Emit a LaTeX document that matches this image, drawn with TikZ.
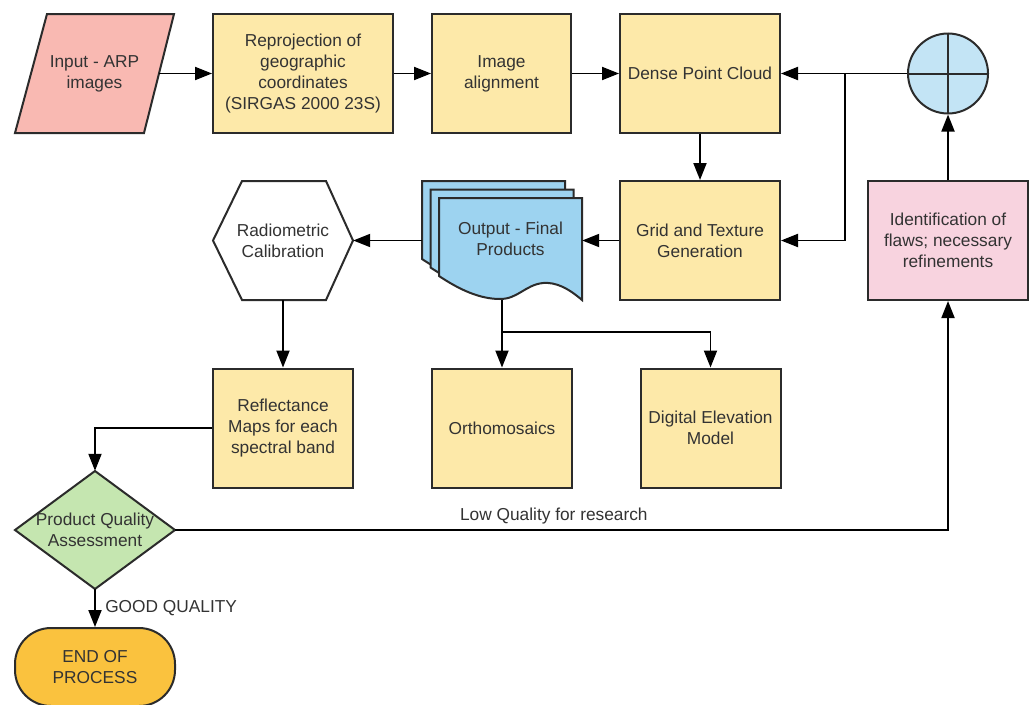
\documentclass[tikz,border=0pt]{standalone}
\usepackage{fontspec}
\setmainfont{Liberation Sans}
\usetikzlibrary{arrows.meta}

\definecolor{boxyellow}{HTML}{FDE9A9}
\definecolor{inputpink}{HTML}{F9B9B2}
\definecolor{identpink}{HTML}{F8D3DF}
\definecolor{circblue}{HTML}{C3E4F5}
\definecolor{docblue}{HTML}{9DD3F0}
\definecolor{testgreen}{HTML}{C5E6B0}
\definecolor{endorange}{HTML}{FAC23E}
\definecolor{textgray}{HTML}{333333}
\definecolor{linegray}{HTML}{2B2B2B}

\begin{document}
\begin{tikzpicture}[x=1pt,y=-1pt,
    every node/.style={font=\fontsize{17.3}{20.7}\selectfont,text=textgray,align=center},
    procbox/.style={rectangle,draw=linegray,line width=2pt,fill=boxyellow,minimum width=140,minimum height=119,inner sep=0},
    anchorbox/.style={rectangle,minimum height=119,inner sep=0},
    outline/.style={draw=linegray,line width=2pt},
    arr/.style={-{Triangle[length=17pt,width=13pt]},draw=black,line width=1.9pt}]

\clip (0,0) rectangle (1032,704);
\fill[white] (0,0) rectangle (1032,704);

% shapes drawn as plain paths

\filldraw[outline,fill=inputpink] (15,133) -- (47,14) -- (174,14) -- (144,133) -- cycle;
\filldraw[outline,fill=white] (213,240.5) -- (242,181) -- (326,181) -- (353,240.5) -- (326,300) -- (242,300) -- cycle;
\filldraw[outline,fill=testgreen] (15,530) -- (95,471) -- (175,530) -- (95,589) -- cycle;

\foreach \s in {17,8.5,0}
    \filldraw[outline,fill=docblue,shift={(-\s,-\s)}] (439,198) -- (582,198) -- (582,300)
        .. controls (568,288) and (556,282) .. (543,283)
        .. controls (525,285) and (518,299) .. (500,299)
        .. controls (480,299) and (460,290) .. (439,276) -- cycle;

% top row

\node (input) [anchorbox,minimum width=129] at (94.5,73.5) {Input - ARP\\images};
\node (reproj) [procbox,minimum width=180] at (303,73.5) {Reprojection of\\geographic\\coordinates\\(SIRGAS 2000 23S)};
\node (align) [procbox,minimum width=139] at (501.5,73.5) {Image\\alignment};
\node (dense) [procbox,minimum width=160] at (700,73.5) {Dense Point Cloud};
\node (merge) [circle,outline,fill=circblue,minimum size=80,inner sep=0,
    path picture={\draw[linegray,line width=2pt] (path picture bounding box.north) -- (path picture bounding box.south)
        (path picture bounding box.west) -- (path picture bounding box.east);}] at (948,73.5) {};

% middle row

\node (radcal) [anchorbox,minimum width=140] at (283,240.5) {Radiometric\\Calibration};
\node (output) [anchorbox,minimum width=160] at (502,240.5) {};
\node (outtext) at (510.5,239) {Output - Final\\Products};
\node (grid) [procbox,minimum width=160] at (700,240.5) {Grid and Texture\\Generation};
\node (ident) [procbox,fill=identpink,minimum width=160] at (948,240.5) {Identification of\\flaws; necessary\\refinements};

% bottom rows

\node (refl) [procbox] at (283,428) {Reflectance\\Maps for each\\spectral band};
\node (ortho) [procbox] at (502,428) {Orthomosaics};
\node (dem) [procbox] at (710.5,428) {Digital Elevation\\Model};
\node (pqa) [anchorbox,minimum width=160,minimum height=118] at (95,530) {Product Quality\\Assessment};
\node (endp) [rectangle,rounded corners=36pt,outline,fill=endorange,minimum width=160,minimum height=78] at (95,667) {END OF\\PROCESS};

\coordinate (split) at (845,73.5);
\coordinate (fork) at (502,332);

% connectors

\draw[arr] (input.east) -- (reproj.west);
\draw[arr] (reproj) -- (align);
\draw[arr] (align) -- (dense);
\draw[arr] (dense) -- (grid);
\draw[arr] (merge) -- (dense);
\draw[arr] (split) |- (grid.east);
\draw[arr] (ident) -- (merge);
\draw[arr] (grid) -- (output.east);
\draw[arr] (output.west) -- (radcal.east);
\draw[arr] (radcal.south) -- (refl);
\draw[arr] (output.south) -- (ortho);
\draw[arr] (fork) -| (dem.north);
\draw[arr] (refl.west) -| (pqa.north);
\draw[arr] (pqa.east) -| node[pos=0.245,above=2pt] {Low Quality for research} (ident.south);
\draw[arr] (pqa.south) -- node[right=6pt] {GOOD QUALITY} (endp.north);

\end{tikzpicture}
\end{document}
